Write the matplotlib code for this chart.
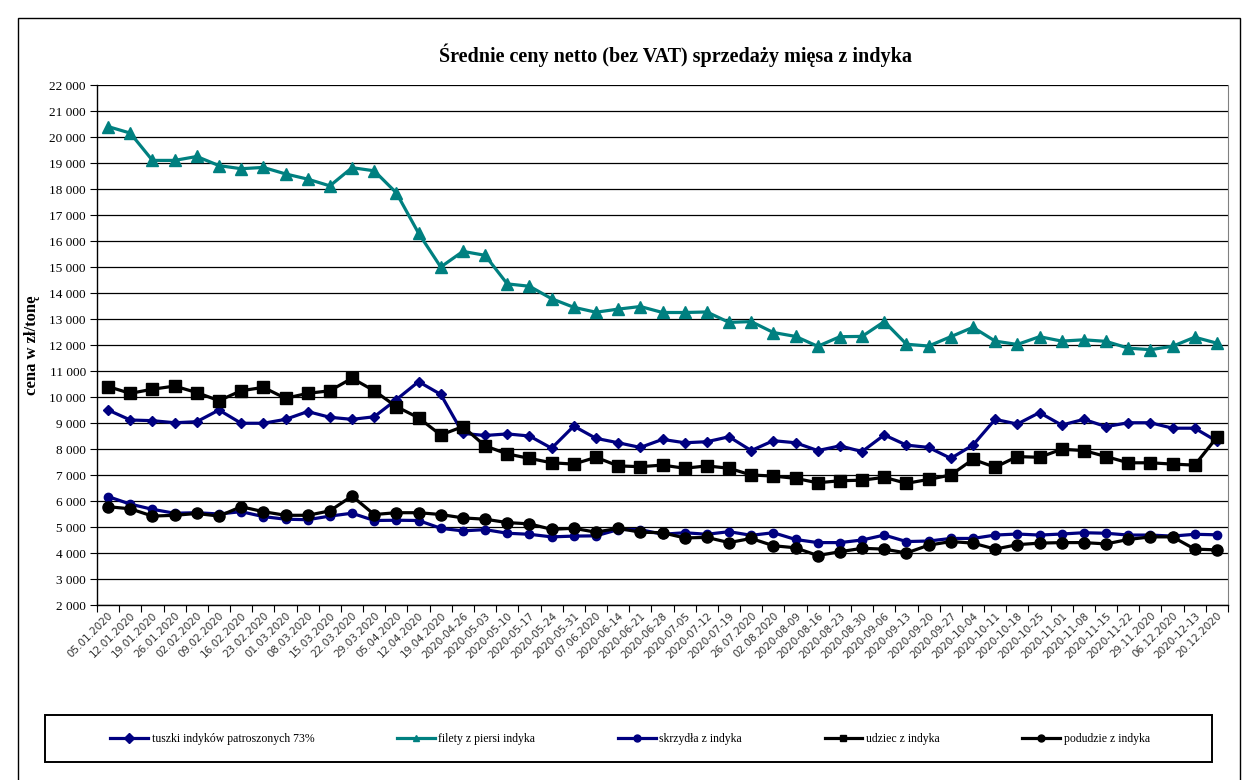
import matplotlib
matplotlib.use("Agg")
import matplotlib.pyplot as plt
from matplotlib.patches import Rectangle
from matplotlib.ticker import FuncFormatter, MultipleLocator

# ---------------------------------------------------------------------------
# Data (zł/tonę), weekly notations 2020
# ---------------------------------------------------------------------------
dates = [
    "05.01.2020", "12.01.2020", "19.01.2020", "26.01.2020", "02.02.2020",
    "09.02.2020", "16.02.2020", "23.02.2020", "01.03.2020", "08.03.2020",
    "15.03.2020", "22.03.2020", "29.03.2020", "05.04.2020", "12.04.2020",
    "19.04.2020", "2020-04-26", "2020-05-03", "2020-05-10", "2020-05-17",
    "2020-05-24", "2020-05-31", "07.06.2020", "2020-06-14", "2020-06-21",
    "2020-06-28", "2020-07-05", "2020-07-12", "2020-07-19", "26.07.2020",
    "02.08.2020", "2020-08-09", "2020-08-16", "2020-08-23", "2020-08-30",
    "2020-09-06", "2020-09-13", "2020-09-20", "2020-09-27", "2020-10-04",
    "2020-10-11", "2020-10-18", "2020-10-25", "2020-11-01", "2020-11-08",
    "2020-11-15", "2020-11-22", "29.11.2020", "06.12.2020", "2020-12-13",
    "20.12.2020",
]

tuszki = [9500, 9115, 9090, 9010, 9050, 9500, 8990, 8990, 9140, 9440,
          9220, 9140, 9240, 9900, 10590, 10100, 8600, 8520, 8580, 8500,
          8030, 8880, 8410, 8240, 8060, 8370, 8240, 8280, 8470, 7940,
          8320, 8240, 7940, 8120, 7900, 8540, 8150, 8060, 7640, 8150,
          9140, 8960, 9400, 8920, 9140, 8860, 9010, 9010, 8800, 8800, 8300]

filety = [20400, 20150, 19100, 19100, 19250, 18900, 18780, 18830, 18580, 18380,
          18120, 18820, 18700, 17850, 16300, 15000, 15600, 15450, 14350, 14260,
          13780, 13450, 13260, 13380, 13480, 13250, 13250, 13270, 12870, 12900,
          12480, 12330, 11950, 12320, 12330, 12900, 12030, 11960, 12320, 12680,
          12150, 12020, 12320, 12150, 12200, 12140, 11880, 11820, 11950, 12300, 12070]

skrzydla = [6170, 5880, 5680, 5530, 5550, 5500, 5590, 5400, 5300, 5280,
            5420, 5530, 5250, 5260, 5250, 4950, 4850, 4900, 4760, 4720,
            4620, 4650, 4660, 4900, 4900, 4720, 4780, 4720, 4820, 4680,
            4780, 4520, 4400, 4400, 4500, 4690, 4440, 4460, 4560, 4560,
            4690, 4730, 4690, 4730, 4780, 4760, 4690, 4690, 4650, 4720, 4700]

udziec = [10400, 10140, 10300, 10420, 10170, 9860, 10240, 10370, 9950, 10140,
          10240, 10720, 10240, 9630, 9200, 8540, 8860, 8120, 7810, 7640,
          7470, 7420, 7680, 7350, 7320, 7380, 7260, 7350, 7260, 7000,
          6960, 6870, 6700, 6780, 6800, 6910, 6680, 6830, 7000, 7600,
          7300, 7710, 7680, 7990, 7940, 7710, 7470, 7470, 7420, 7380, 8450]

podudzie = [5780, 5700, 5420, 5450, 5520, 5420, 5780, 5590, 5450, 5450,
            5620, 6190, 5480, 5550, 5550, 5480, 5350, 5300, 5170, 5120,
            4910, 4950, 4800, 4950, 4800, 4780, 4580, 4600, 4400, 4560,
            4280, 4200, 3900, 4050, 4180, 4150, 4000, 4300, 4440, 4380,
            4150, 4320, 4380, 4400, 4400, 4350, 4520, 4620, 4620, 4150, 4120]

series = [
    ("tuszki indyków patroszonych 73%", tuszki, "#000080", "D", 5),
    ("filety z piersi indyka", filety, "#008080", "^", 8.5),
    ("skrzydła z indyka", skrzydla, "#000080", "o", 6),
    ("udziec z indyka", udziec, "#000000", "s", 8),
    ("podudzie z indyka", podudzie, "#000000", "o", 8),
]

# ---------------------------------------------------------------------------
# Figure
# ---------------------------------------------------------------------------
fig = plt.figure(figsize=(12.5, 7.8), dpi=100)
W, H = 1250, 780

# outer chart frame
fig.patches.append(Rectangle((18 / W, -0.01), (1240 - 18) / W, 1 - 18 / H + 0.01,
                             transform=fig.transFigure, fill=False,
                             edgecolor="#000000", lw=1.0))

# legend frame (drawn separately so it spans the same width as the original)
fig.patches.append(Rectangle((45 / W, 1 - 762 / H), (1212 - 45) / W, 47 / H,
                             transform=fig.transFigure, fill=False,
                             edgecolor="#000000", lw=1.4))

ax = fig.add_axes([97 / W, 1 - 605 / H, (1228 - 97) / W, (605 - 85) / H])

x = list(range(len(dates)))
for label, vals, color, marker, ms in series:
    ax.plot(x, vals, color=color, lw=2.3, marker=marker, markersize=ms,
            markeredgecolor=color, markerfacecolor=color, label=label)

ax.set_xlim(-0.5, len(dates) - 0.5)
ax.set_ylim(2000, 22000)
ax.yaxis.set_major_locator(MultipleLocator(1000))
ax.yaxis.set_major_formatter(FuncFormatter(lambda v, p: f"{int(v):,}".replace(",", " ")))
ax.grid(axis="y", color="#000000", lw=0.9)
ax.set_axisbelow(True)

ax.set_xticks(x)
ax.set_xticklabels(dates, rotation=45, ha="right", rotation_mode="anchor",
                   fontsize=7.5, color="#333333", family="DejaVu Sans")
ax.tick_params(axis="x", which="major", length=0, pad=4)
ax.set_xticks([i - 0.5 for i in range(len(dates) + 1)], minor=True)
ax.tick_params(axis="x", which="minor", length=5, width=0.8, direction="out")
ax.tick_params(axis="y", length=5, width=0.8, direction="out", pad=3)
for t in ax.get_yticklabels():
    t.set_family("Liberation Serif")
    t.set_fontsize(9.5)

ax.spines["top"].set_visible(False)
ax.spines["right"].set_color("#808080")
ax.spines["left"].set_linewidth(1.0)
ax.spines["bottom"].set_linewidth(1.0)

ax.set_ylabel("cena w zł/tonę", family="Liberation Serif", fontweight="bold",
              fontsize=12)
ax.yaxis.set_label_coords(-0.0505, 0.5)

fig.text(676 / W, 1 - 55 / H, "Średnie ceny netto (bez VAT) sprzedaży mięsa z indyka",
         ha="center", va="center", family="Liberation Serif", fontweight="bold",
         fontsize=14.5)

leg = fig.legend(loc="center", bbox_to_anchor=(630 / W, 1 - 739 / H), ncol=5,
                 prop={"family": "Liberation Serif", "size": 8.5},
                 frameon=False, handlelength=3.2,
                 columnspacing=7.0, handletextpad=0.3)
for h in leg.get_lines():
    h.set_markersize(5)

fig.savefig("out.png", dpi=100)
